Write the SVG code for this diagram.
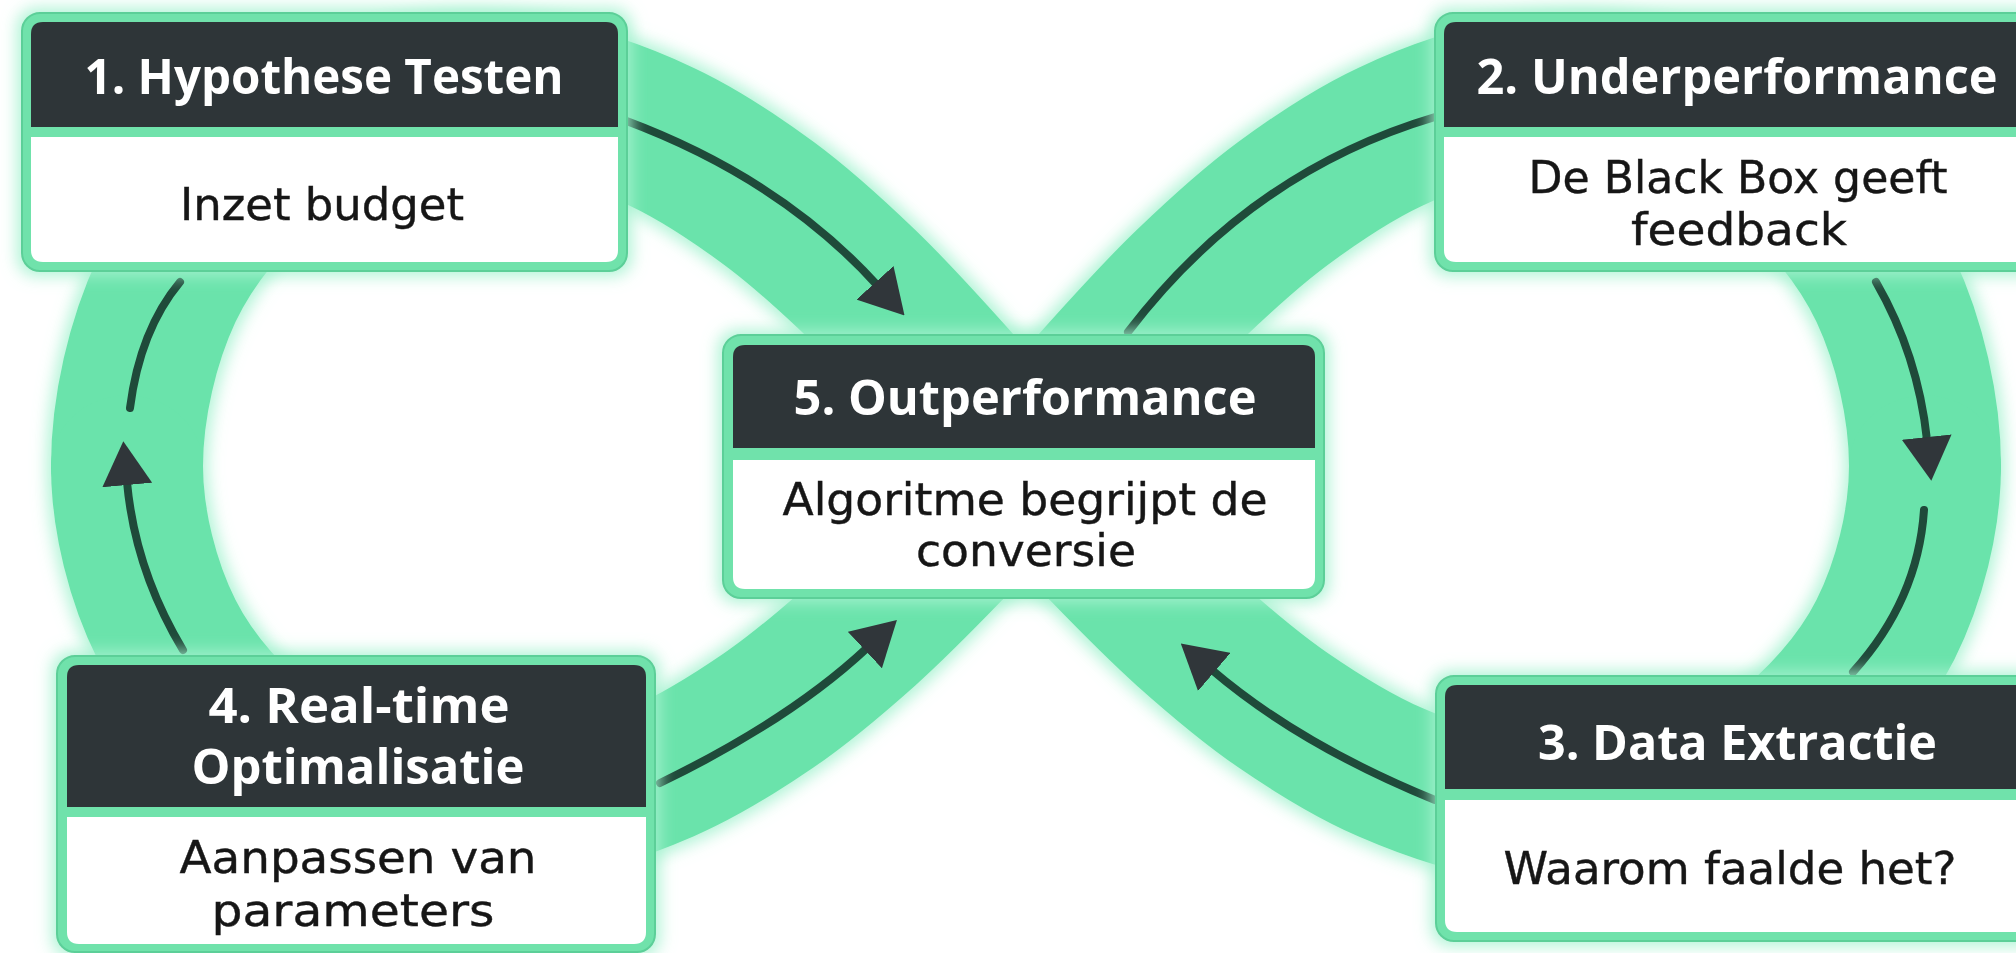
<svg xmlns="http://www.w3.org/2000/svg" width="2016" height="953" viewBox="0 0 2016 953">
<style>
.frame{fill:#6fe2ab;stroke:#5bcf98;stroke-width:2}
.head{fill:#2f3537}
.body{fill:#ffffff}
.t{font-family:"Open Sans","Liberation Sans",sans-serif;font-weight:700;font-size:48px;fill:#ffffff;text-anchor:middle}
.b{font-family:"DejaVu Sans","Liberation Sans",sans-serif;font-size:44px;fill:#161616;stroke:#161616;stroke-width:0.4;text-anchor:middle}
</style>
<defs>
<filter id="glow" x="-15%" y="-15%" width="130%" height="130%">
<feMorphology in="SourceAlpha" operator="dilate" radius="4" result="d"/>
<feGaussianBlur in="d" stdDeviation="8" result="bl"/>
<feFlood flood-color="#a6f2d0" flood-opacity="0.9"/>
<feComposite in2="bl" operator="in" result="g"/>
<feMerge><feMergeNode in="g"/><feMergeNode in="SourceGraphic"/></feMerge>
</filter>
<marker id="ah" viewBox="0 0 44 50" markerWidth="44" markerHeight="50" refX="3" refY="25" orient="auto" markerUnits="userSpaceOnUse">
<path d="M0,0 L44,25 L0,50 Z" fill="#30363a"/>
</marker>
<path id="q" d="M127,466 C127,407.3 142.8,340.8 166.6,289.9 C190.4,239 230.3,192.6 269.7,160.7 C309.1,128.8 358.4,109.2 403.2,98.5 C448,87.8 495.6,89.9 538.7,96.3 C581.8,102.7 623.4,118.9 661.8,136.8 C700.2,154.7 735.6,178.8 769.1,203.5 C802.6,228.2 833.1,256.5 862.7,284.9 C892.3,313.3 919.6,343.7 946.8,373.9 C974,404.1 999.6,435.3 1026,466"/>
</defs>
<rect width="2016" height="953" fill="#ffffff"/>
<g id="band" filter="url(#glow)" fill="none" stroke="#6ae3ab" stroke-width="152" stroke-linecap="round">
<use href="#q"/>
<use href="#q" transform="matrix(1,0,0,-0.93,0,899.38)"/>
<use href="#q" transform="matrix(-1,0,0,1,2052,0)"/>
<use href="#q" transform="matrix(-1,0,0,-0.93,2052,899.38)"/>
</g>
<g id="connectors" fill="none" stroke="#1f4a3a" stroke-width="8" stroke-linecap="round">
<path d="M624,120 Q780,178 877,285" marker-end="url(#ah)"/>
<path d="M1128,332 Q1250,172 1435,117"/>
<path d="M1876,282 Q1918,355 1927,440" marker-end="url(#ah)"/>
<path d="M1924,510 Q1918,600 1853,672"/>
<path d="M1435,800 Q1300,745 1212,670" marker-end="url(#ah)"/>
<path d="M660,783 Q790,720 867,648" marker-end="url(#ah)"/>
<path d="M183,650 Q135,570 127,482" marker-end="url(#ah)"/>
<path d="M130,408 Q140,330 180,282"/>
</g>
<g id="node1" filter="url(#glow)">
<rect class="frame" x="22" y="13" width="605" height="258" rx="18"/>
<path class="head" d="M31,127 V34 Q31,22 43,22 H606 Q618,22 618,34 V127 Z"/>
<path class="body" d="M31,137 H618 V250 Q618,262 606,262 H43 Q31,262 31,250 Z"/>
<text class="t" x="324" y="94" textLength="479" lengthAdjust="spacingAndGlyphs">1. Hypothese Testen</text>
<text class="b" x="322" y="220" textLength="284" lengthAdjust="spacingAndGlyphs">Inzet budget</text>
</g>
<g id="node2" filter="url(#glow)">
<rect class="frame" x="1435" y="13" width="605" height="258" rx="18"/>
<path class="head" d="M1444,127 V34 Q1444,22 1456,22 H2019 Q2031,22 2031,34 V127 Z"/>
<path class="body" d="M1444,137 H2031 V250 Q2031,262 2019,262 H1456 Q1444,262 1444,250 Z"/>
<text class="t" x="1737" y="94" textLength="521" lengthAdjust="spacingAndGlyphs">2. Underperformance</text>
<text class="b" x="1738" y="193" textLength="419" lengthAdjust="spacingAndGlyphs">De Black Box geeft</text>
<text class="b" x="1739" y="245" textLength="216" lengthAdjust="spacingAndGlyphs">feedback</text>
</g>
<g id="node3" filter="url(#glow)">
<rect class="frame" x="1436" y="676" width="605" height="265" rx="18"/>
<path class="head" d="M1445,789 V697 Q1445,685 1457,685 H2020 Q2032,685 2032,697 V789 Z"/>
<path class="body" d="M1445,800 H2032 V920 Q2032,932 2020,932 H1457 Q1445,932 1445,920 Z"/>
<text class="t" x="1737.5" y="760" textLength="399" lengthAdjust="spacingAndGlyphs">3. Data Extractie</text>
<text class="b" x="1730" y="884" textLength="453" lengthAdjust="spacingAndGlyphs">Waarom faalde het?</text>
</g>
<g id="node4" filter="url(#glow)">
<rect class="frame" x="57" y="656" width="598" height="296" rx="18"/>
<path class="head" d="M67,807 V677 Q67,665 79,665 H634 Q646,665 646,677 V807 Z"/>
<path class="body" d="M67,817 H646 V932 Q646,944 634,944 H79 Q67,944 67,932 Z"/>
<text class="t" x="359" y="723" font-size="44" textLength="301" lengthAdjust="spacingAndGlyphs">4. Real-time</text>
<text class="t" x="358" y="784" font-size="44" textLength="333" lengthAdjust="spacingAndGlyphs">Optimalisatie</text>
<text class="b" x="358" y="873" textLength="357" lengthAdjust="spacingAndGlyphs">Aanpassen van</text>
<text class="b" x="353" y="926" textLength="283" lengthAdjust="spacingAndGlyphs">parameters</text>
</g>
<g id="node5" filter="url(#glow)">
<rect class="frame" x="723" y="335" width="601" height="263" rx="18"/>
<path class="head" d="M733,448 V357 Q733,345 745,345 H1303 Q1315,345 1315,357 V448 Z"/>
<path class="body" d="M733,460 H1315 V577 Q1315,589 1303,589 H745 Q733,589 733,577 Z"/>
<text class="t" x="1025" y="415" textLength="463" lengthAdjust="spacingAndGlyphs">5. Outperformance</text>
<text class="b" x="1025" y="515" textLength="485" lengthAdjust="spacingAndGlyphs">Algoritme begrijpt de</text>
<text class="b" x="1026" y="566" textLength="220" lengthAdjust="spacingAndGlyphs">conversie</text>
</g>
</svg>
